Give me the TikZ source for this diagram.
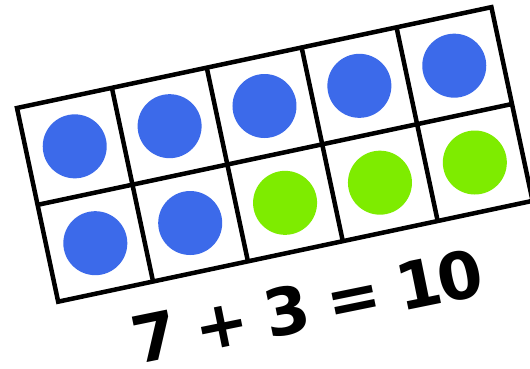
\documentclass[tikz,border=0pt]{standalone}
\usepackage{fontspec}
\setmainfont{DejaVu Sans}
\usepackage{tikz}
\usetikzlibrary{positioning}
\usepackage{xcolor}
\definecolor{dotblue}{RGB}{60,106,234}
\definecolor{dotgreen}{RGB}{126,236,0}

\tikzset{
  frameline/.style={line width=4.5pt,line join=miter},
  bdot/.style={circle,fill=dotblue,minimum size=64pt,inner sep=0pt},
  gdot/.style={circle,fill=dotgreen,minimum size=64pt,inner sep=0pt}
}

\begin{document}
\begin{tikzpicture}[x=1pt,y=-1pt]
\useasboundingbox (0,0) rectangle (530,368);
\fill[white] (0,0) rectangle (530,368);
\begin{scope}[shift={(17,108)},rotate=12]
\fill[white] (0,0) rectangle (485,198);
\draw[frameline] (0,0) rectangle (485,198);
\draw[frameline] (0,99) -- (485,99);
\draw[frameline] (97,0) -- (97,198);
\draw[frameline] (194,0) -- (194,198);
\draw[frameline] (291,0) -- (291,198);
\draw[frameline] (388,0) -- (388,198);
% top row
\node[bdot] (t1) at (48.5,49.5) {};
\node[bdot] (t2) at (145.5,49.5) {};
\node[bdot] (t3) at (242.5,49.5) {};
\node[bdot] (t4) at (339.5,49.5) {};
\node[bdot] (t5) at (436.5,49.5) {};
% bottom row
\node[bdot] (u1) at (48.5,148.5) {};
\node[bdot] (u2) at (145.5,148.5) {};
\node[gdot] (u3) at (242.5,148.5) {};
\node[gdot] (u4) at (339.5,148.5) {};
\node[gdot] (u5) at (436.5,148.5) {};
\end{scope}
\node[anchor=base,rotate=11.5,inner sep=0pt,font=\fontsize{65}{65}\selectfont\bfseries]
  (sum) at (312,329.5) {7\hspace{0.27em}+\hspace{0.27em}3\hspace{0.27em}=\hspace{0.27em}1\kern-4pt0};
\end{tikzpicture}
\end{document}
